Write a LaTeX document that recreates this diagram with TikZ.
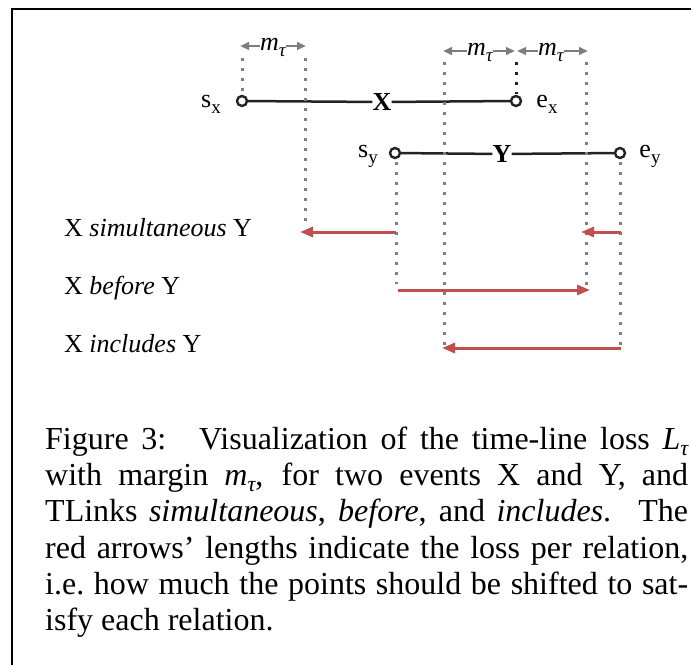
\documentclass[tikz,border=0pt]{standalone}
\usepackage{fontspec}
\setmainfont{Liberation Serif}
\usetikzlibrary{arrows.meta}
\definecolor{lossred}{RGB}{192,80,77}
\definecolor{dotgray}{RGB}{128,128,128}
\definecolor{linedark}{RGB}{35,35,35}
\definecolor{mgray}{RGB}{125,125,125}
\newcommand\diafont{\fontsize{26}{30}\selectfont}
\newcommand\capfont{\fontsize{32}{36.5}\selectfont}
\newcommand\dsub[1]{\raisebox{-6pt}{\fontsize{19}{19}\selectfont #1}}
\newcommand\csub[1]{\raisebox{-6pt}{\fontsize{22}{22}\selectfont\itshape #1}}
\newcommand\mtaudia{\textit{m}\raisebox{-6pt}{\fontsize{19}{19}\selectfont\itshape τ}}
\tikzset{
  endpt/.style={circle, draw=linedark, fill=white, line width=2.4pt, minimum size=10pt, inner sep=0pt},
  evline/.style={draw=linedark, line width=2.5pt},
  evlabel/.style={font=\diafont\bfseries, inner sep=0pt},
  ptlabel/.style={font=\diafont, inner sep=0pt},
  guide/.style={draw=dotgray, line width=3pt, dash pattern=on 3pt off 7pt},
  darkguide/.style={draw=linedark, line width=3pt, dash pattern=on 3pt off 7pt},
  lossarrow/.style={draw=lossred, line width=3pt, -{Triangle[length=13pt,width=10pt]}},
  marrow/.style={draw=mgray, line width=2.2pt, -{Triangle[length=9pt,width=7.5pt]}},
  mlabel/.style={font=\diafont, inner sep=0pt},
  rellabel/.style={font=\diafont, anchor=base west, inner sep=0pt},
  capline/.style={font=\capfont, anchor=base west, inner sep=0pt},
}
\begin{document}
\begin{tikzpicture}[x=1pt,y=-1pt]
\useasboundingbox (0,0) rectangle (691,665);
% frame
\draw[line width=2pt] (12,665) -- (12,9) -- (691,9);

% event endpoints
\node[endpt] (sx) at (242,101) {};
\node[endpt] (ex) at (516,101) {};
\node[endpt] (sy) at (395,153) {};
\node[endpt] (ey) at (620,153) {};
\node[evlabel] (X) at (382,102) {X};
\node[evlabel] (Y) at (502,154) {Y};
\draw[evline] (sx) -- (X) -- (ex);
\draw[evline] (sy) -- (Y) -- (ey);

\node[ptlabel] (lsx) at (211,104) {s\dsub{x}};
\node[ptlabel] (lex) at (547,104) {e\dsub{x}};
\node[ptlabel] (lsy) at (368,156) {s\dsub{y}};
\node[ptlabel] (ley) at (650,156) {e\dsub{y}};

% guide coordinates
\coordinate (g1t) at (242,58);  \coordinate (g1b) at (242,94);
\coordinate (g2t) at (305.5,58); \coordinate (g2b) at (305.5,228);
\coordinate (g3t) at (444,62);  \coordinate (g3b) at (444,346);
\coordinate (g4t) at (516,62);  \coordinate (g4b) at (516,94);
\coordinate (g5t) at (586.5,62); \coordinate (g5b) at (586.5,288);
\coordinate (g6t) at (396,162); \coordinate (g6b) at (396,284);
\coordinate (g7t) at (620,162); \coordinate (g7b) at (620,346);
\draw[guide] (g1t) -- (g1b);
\draw[guide] (g2t) -- (g2b);
\draw[guide] (g3t) -- (g3b);
\draw[darkguide] (g4t) -- (g4b);
\draw[guide] (g5t) -- (g5b);
\draw[guide] (g6t) -- (g6b);
\draw[guide] (g7t) -- (g7b);

% margin labels
\node[mlabel] (m1) at (273,47) {\mtaudia};
\node[mlabel] (m2) at (480,52) {\mtaudia};
\node[mlabel] (m3) at (551,52) {\mtaudia};
\coordinate (m1l) at (240,46); \coordinate (m1r) at (306,46);
\coordinate (m2l) at (443,51); \coordinate (m2r) at (515,51);
\coordinate (m3l) at (517,51); \coordinate (m3r) at (588,51);
\draw[marrow] (m1.west |- m1l) -- (m1l);
\draw[marrow] (m1.east |- m1r) -- (m1r);
\draw[marrow] (m2.west |- m2l) -- (m2l);
\draw[marrow] (m2.east |- m2r) -- (m2r);
\draw[marrow] (m3.west |- m3l) -- (m3l);
\draw[marrow] (m3.east |- m3r) -- (m3r);

% relation labels
\node[rellabel] (r1) at (64,236) {X \textit{simultaneous} Y};
\node[rellabel] (r2) at (64,294) {X \textit{before} Y};
\node[rellabel] (r3) at (64,352) {X \textit{includes} Y};

% loss arrows
\coordinate (a1s) at (396,232); \coordinate (a1e) at (300,232);
\coordinate (a2s) at (621,232); \coordinate (a2e) at (581,232);
\coordinate (a3s) at (398,290); \coordinate (a3e) at (590,290);
\coordinate (a4s) at (621,348); \coordinate (a4e) at (442,348);
\draw[lossarrow] (a1s) -- (a1e);
\draw[lossarrow] (a2s) -- (a2e);
\draw[lossarrow] (a3s) -- (a3e);
\draw[lossarrow] (a4s) -- (a4e);

% caption
\node[capline] (c1) at (45,449) {\makebox[643pt][s]{Figure 3:\hspace{0.4em} Visualization of the time-line loss \textit{L}\csub{τ}}};
\node[capline] (c2) at (45,485) {\makebox[643pt][s]{with margin \textit{m}\csub{τ}, for two events X and Y, and}};
\node[capline] (c3) at (45,521.5) {\makebox[643pt][s]{TLinks \textit{simultaneous}, \textit{before}, and \textit{includes}.\hspace{0.2em} The}};
\node[capline] (c4) at (45,558) {\makebox[643pt][s]{red arrows’ lengths indicate the loss per relation,}};
\node[capline] (c5) at (45,594) {\makebox[643pt][s]{i.e.\ how much the points should be shifted to sat-}};
\node[capline] (c6) at (45,630.5) {isfy each relation.};
\end{tikzpicture}
\end{document}
